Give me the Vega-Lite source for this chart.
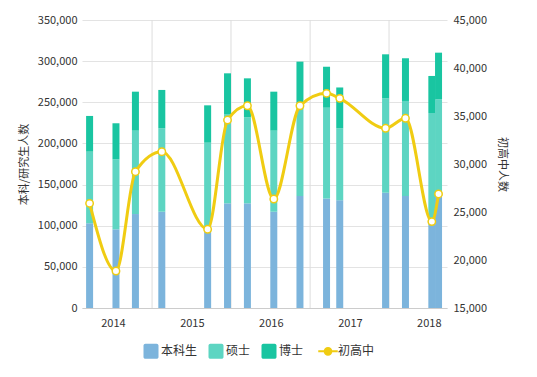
{
  "$schema": "https://vega.github.io/schema/vega-lite/v6.json",
  "width": 365,
  "height": 288,
  "autosize": "none",
  "padding": {"left": 82, "top": 20, "right": 90, "bottom": 69},
  "config": {
    "font": "Noto Sans CJK SC",
    "view": {"stroke": null},
    "axis": {"labelColor": "#333333", "labelFontSize": 11, "titleColor": "#333333", "titleFontSize": 11, "titleFontWeight": "normal", "ticks": false, "domain": false, "labelOverlap": false}
  },
  "datasets": {
    "bars": [
      {"date": "2013-09-15", "type": "本科生", "value": 103000},
      {"date": "2013-09-15", "type": "硕士", "value": 87000},
      {"date": "2013-09-15", "type": "博士", "value": 43400},
      {"date": "2014-01-15", "type": "本科生", "value": 95600},
      {"date": "2014-01-15", "type": "硕士", "value": 85100},
      {"date": "2014-01-15", "type": "博士", "value": 43800},
      {"date": "2014-04-15", "type": "本科生", "value": 114200},
      {"date": "2014-04-15", "type": "硕士", "value": 101300},
      {"date": "2014-04-15", "type": "博士", "value": 47400},
      {"date": "2014-08-15", "type": "本科生", "value": 117000},
      {"date": "2014-08-15", "type": "硕士", "value": 101400},
      {"date": "2014-08-15", "type": "博士", "value": 46600},
      {"date": "2015-03-15", "type": "本科生", "value": 92700},
      {"date": "2015-03-15", "type": "硕士", "value": 108200},
      {"date": "2015-03-15", "type": "博士", "value": 45400},
      {"date": "2015-06-15", "type": "本科生", "value": 127200},
      {"date": "2015-06-15", "type": "硕士", "value": 108500},
      {"date": "2015-06-15", "type": "博士", "value": 49500},
      {"date": "2015-09-15", "type": "本科生", "value": 127200},
      {"date": "2015-09-15", "type": "硕士", "value": 104500},
      {"date": "2015-09-15", "type": "博士", "value": 47400},
      {"date": "2016-01-15", "type": "本科生", "value": 117000},
      {"date": "2016-01-15", "type": "硕士", "value": 98500},
      {"date": "2016-01-15", "type": "博士", "value": 47400},
      {"date": "2016-05-15", "type": "本科生", "value": 136100},
      {"date": "2016-05-15", "type": "硕士", "value": 112700},
      {"date": "2016-05-15", "type": "博士", "value": 50600},
      {"date": "2016-09-15", "type": "本科生", "value": 133000},
      {"date": "2016-09-15", "type": "硕士", "value": 110400},
      {"date": "2016-09-15", "type": "博士", "value": 49800},
      {"date": "2016-11-15", "type": "本科生", "value": 131000},
      {"date": "2016-11-15", "type": "硕士", "value": 87400},
      {"date": "2016-11-15", "type": "博士", "value": 49600},
      {"date": "2017-06-15", "type": "本科生", "value": 140100},
      {"date": "2017-06-15", "type": "硕士", "value": 114700},
      {"date": "2017-06-15", "type": "博士", "value": 53500},
      {"date": "2017-09-15", "type": "本科生", "value": 136100},
      {"date": "2017-09-15", "type": "硕士", "value": 115500},
      {"date": "2017-09-15", "type": "博士", "value": 51900},
      {"date": "2018-01-15", "type": "本科生", "value": 101000},
      {"date": "2018-01-15", "type": "硕士", "value": 136000},
      {"date": "2018-01-15", "type": "博士", "value": 45000},
      {"date": "2018-02-15", "type": "本科生", "value": 136000},
      {"date": "2018-02-15", "type": "硕士", "value": 117600},
      {"date": "2018-02-15", "type": "博士", "value": 56700}
    ],
    "line": [
      {"date": "2013-09-15", "value": 25900},
      {"date": "2014-01-15", "value": 18850},
      {"date": "2014-04-15", "value": 29200},
      {"date": "2014-08-15", "value": 31280},
      {"date": "2015-03-15", "value": 23200},
      {"date": "2015-06-15", "value": 34580},
      {"date": "2015-09-15", "value": 36070},
      {"date": "2016-01-15", "value": 26350},
      {"date": "2016-05-15", "value": 36070},
      {"date": "2016-09-15", "value": 37360},
      {"date": "2016-11-15", "value": 36840},
      {"date": "2017-06-15", "value": 33720},
      {"date": "2017-09-15", "value": 34760},
      {"date": "2018-01-15", "value": 24000},
      {"date": "2018-02-15", "value": 26880}
    ],
    "grid": [
      {"date": "2014-07-01"},
      {"date": "2015-07-01"},
      {"date": "2016-07-01"},
      {"date": "2017-07-01"}
    ]
  },
  "layer": [
    {
      "data": {"name": "grid"},
      "mark": {"type": "rule", "color": "#dddddd", "strokeWidth": 1},
      "encoding": {
        "x": {"field": "date", "type": "temporal"}
      }
    },
    {
      "data": {"name": "bars"},
      "transform": [
        {"calculate": "indexof(['本科生', '硕士', '博士'], datum.type)", "as": "stackOrder"}
      ],
      "mark": {"type": "bar", "width": 7},
      "encoding": {
        "x": {
          "field": "date", "type": "temporal",
          "scale": {"domain": ["2013-09-03", "2018-03-03"]},
          "axis": {
            "title": null, "format": "%Y", "grid": false, "domain": true, "domainColor": "#cccccc",
            "values": ["2014-01-01", "2015-01-01", "2016-01-01", "2017-01-01", "2018-01-01"],
            "labelPadding": 9, "labelFontSize": 11
          }
        },
        "y": {
          "field": "value", "type": "quantitative", "stack": "zero",
          "scale": {"domain": [0, 350000]},
          "axis": {"title": "本科/研究生人数", "orient": "left", "values": [0, 50000, 100000, 150000, 200000, 250000, 300000, 350000], "format": ",d", "grid": true, "gridColor": "#e3e3e3", "labelPadding": 5, "titlePadding": 8}
        },
        "order": {"field": "stackOrder", "type": "quantitative", "sort": "ascending"},
        "color": {
          "field": "type", "type": "nominal",
          "sort": ["本科生", "硕士", "博士", "初高中"],
          "scale": {"domain": ["本科生", "硕士", "博士", "初高中"], "range": ["#7cb4dc", "#5dd5c2", "#19c5a1", "#f0cc12"]},
          "legend": {
            "title": null, "orient": "none", "direction": "horizontal",
            "legendX": 63, "legendY": 325,
            "symbolSize": 225, "labelFontSize": 12, "labelColor": "#333333",
            "columnPadding": 10, "labelOffset": 4,
            "encode": {
              "symbols": {
                "update": {
                  "shape": {"signal": "datum.value === '初高中' ? 'M-1.3,0H-0.45M0.45,0H1.3M-0.45,0A0.45,0.45 0 1,0 0.45,0A0.45,0.45 0 1,0 -0.45,0' : 'M-0.75,-1H0.75A0.25,0.25 0 0 1 1,-0.75V0.75A0.25,0.25 0 0 1 0.75,1H-0.75A0.25,0.25 0 0 1 -1,0.75V-0.75A0.25,0.25 0 0 1 -0.75,-1Z'"},
                  "fill": {"signal": "datum.value === '初高中' ? '#ffffff' : scale('color', datum.value)"},
                  "stroke": {"signal": "datum.value === '初高中' ? '#f0cc12' : null"},
                  "strokeWidth": {"signal": "datum.value === '初高中' ? 2 : 0"},
                  "opacity": {"value": 1}
                }
              }
            }
          }
        }
      }
    },
    {
      "data": {"name": "line"},
      "encoding": {
        "x": {"field": "date", "type": "temporal"},
        "y": {
          "field": "value", "type": "quantitative",
          "scale": {"domain": [15000, 45000]},
          "axis": {"title": "初高中人数", "orient": "right", "values": [15000, 20000, 25000, 30000, 35000, 40000, 45000], "format": ",d", "grid": false, "labelPadding": 6, "titlePadding": 10}
        }
      },
      "layer": [
        {
          "mark": {"type": "line", "interpolate": "monotone", "strokeWidth": 3},
          "encoding": {"color": {"datum": "初高中", "type": "nominal"}}
        },
        {
          "mark": {"type": "point", "filled": true, "fill": "#ffffff", "stroke": "#f0cc12", "strokeWidth": 1.5, "size": 55, "opacity": 1}
        }
      ]
    }
  ],
  "resolve": {"scale": {"y": "independent"}}
}
